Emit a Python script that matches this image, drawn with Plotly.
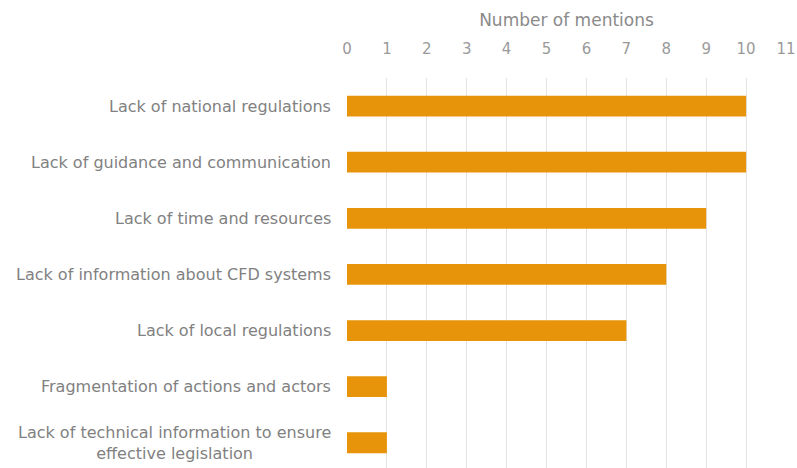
import plotly.graph_objects as go

categories = [
    "Lack of national regulations",
    "Lack of guidance and communication",
    "Lack of time and resources",
    "Lack of information about CFD systems",
    "Lack of local regulations",
    "Fragmentation of actions and actors",
    "Lack of technical information to ensure<br>effective legislation",
]
mentions = [10, 10, 9, 8, 7, 1, 1]
x_ticks = list(range(0, 12))

bar_color = "#E8940A"
label_color = "#818181"
tick_color = "#9a9a9a"
font_family = "DejaVu Sans, sans-serif"

positions = list(range(len(categories)))

fig = go.Figure(
    go.Bar(
        x=mentions,
        y=positions,
        orientation="h",
        width=0.37,
        marker=dict(color=bar_color, line=dict(width=0)),
        hoverinfo="skip",
    )
)

# category labels, centred per line and right-anchored next to the plot
for pos, name in zip(positions, categories):
    fig.add_annotation(
        x=0, xref="x", y=pos, yref="y",
        text=name, showarrow=False,
        xanchor="right", yanchor="middle", align="center",
        xshift=-14,
        font=dict(family=font_family, size=16, color=label_color),
    )

fig.update_layout(
    width=797, height=468,
    margin=dict(l=347, r=11, t=78, b=0),
    paper_bgcolor="white", plot_bgcolor="white",
    showlegend=False,
    font=dict(family=font_family, color=tick_color),
    xaxis=dict(
        side="top",
        range=[0, 11],
        tickvals=x_ticks,
        ticktext=[str(v) for v in x_ticks],
        tickfont=dict(size=15, color=tick_color),
        ticklabeloverflow="allow",
        automargin=False,
        showgrid=True, gridcolor="#e3e3e3", gridwidth=1,
        zeroline=False, showline=False, ticks="",
        ticklabelstandoff=20,
        title=dict(text="Number of mentions", standoff=9,
                   font=dict(size=17, color="#8a8a8a")),
        fixedrange=True,
    ),
    yaxis=dict(
        range=[6.45, -0.5],
        showticklabels=False, showgrid=False, zeroline=False,
        showline=False, ticks="",
        automargin=False,
        fixedrange=True,
    ),
)

fig.write_html("out.html")
